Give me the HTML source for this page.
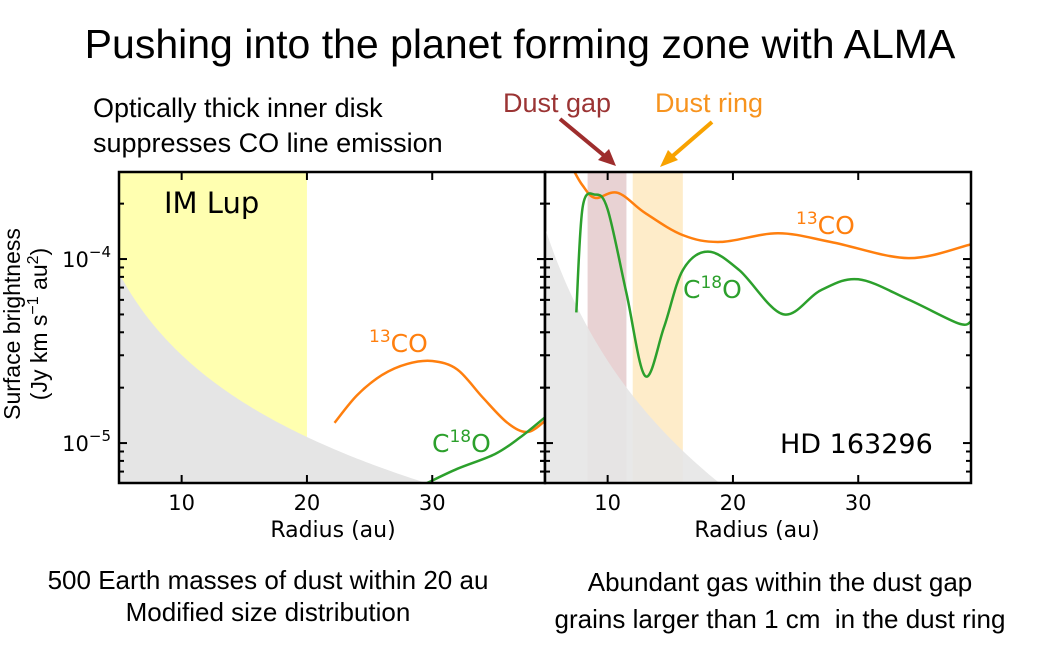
<!DOCTYPE html>
<html><head><meta charset="utf-8"><style>
body{margin:0;background:#fff;}
svg{display:block;font-family:"Liberation Sans","DejaVu Sans",sans-serif;}
.tk{font-family:"DejaVu Sans",sans-serif;font-size:21px;}
</style></head><body>
<svg id="fig" width="1037" height="649" viewBox="0 0 1037 649">
<text x="520" y="58" text-anchor="middle" font-size="41">Pushing into the planet forming zone with ALMA</text>
<text x="93" y="117" font-size="27">Optically thick inner disk</text>
<text x="93" y="152" font-size="27">suppresses CO line emission</text>
<text x="503" y="112" font-size="27" fill="#9b3434">Dust gap</text>
<text x="655" y="112" font-size="27" fill="#f7931e">Dust ring</text>
<g><line x1="560" y1="119" x2="607" y2="158" stroke="#9e2d2d" stroke-width="4"/><polygon points="616,166 598,160 609,149" fill="#9e2d2d"/></g>
<g><line x1="712" y1="122" x2="668" y2="160" stroke="#f8a200" stroke-width="4"/><polygon points="660,167 668,150 678,160" fill="#f8a200"/></g>
<g id="plots"></g>
<text x="24" y="328" font-size="23" text-anchor="middle" transform="rotate(-90 20 328)">Surface brightness</text>
<text x="51" y="328" font-size="23" text-anchor="middle" transform="rotate(-90 47 328)">(Jy km s<tspan dy="-9" font-size="16">−1</tspan><tspan dy="9"> au</tspan><tspan dy="-9" font-size="16">2</tspan><tspan dy="9">)</tspan></text>
<text x="333" y="537" font-size="22" font-family="DejaVu Sans, sans-serif" text-anchor="middle">Radius (au)</text>
<text x="757" y="537" font-size="22" font-family="DejaVu Sans, sans-serif" text-anchor="middle">Radius (au)</text>
<text x="268" y="589" font-size="26" text-anchor="middle">500 Earth masses of dust within 20 au</text>
<text x="268" y="621" font-size="26" text-anchor="middle">Modified size distribution</text>
<text x="780" y="591" font-size="26" text-anchor="middle">Abundant gas within the dust gap</text>
<text x="780" y="628" font-size="26" text-anchor="middle" xml:space="preserve">grains larger than 1 cm  in the dust ring</text>
</svg>
<script>
// data (log10 of surface brightness)
const leftCO13X=[22.2,24,26,28,30,32,34,36,37.6,39];
const leftCO13Y=[-4.89,-4.74,-4.63,-4.57,-4.554,-4.6,-4.75,-4.89,-4.94,-4.88];
const leftC18OX=[29.6,32,35,37,39];
const leftC18OY=[-5.217,-5.14,-5.06,-4.97,-4.86];
const rightCO13X=[7.3,8,9,10.8,13,16,19,23.6,28,34,39];
const rightCO13Y=[-3.52,-3.6,-3.668,-3.64,-3.75,-3.87,-3.907,-3.86,-3.91,-3.995,-3.92];
const rightC18OX=[7.5,8,9,10,11.5,13,14.5,16,18,20.5,24,27,30,34,38,39];
const rightC18OY=[-4.29,-3.72,-3.65,-3.73,-4.185,-4.636,-4.37,-4.06,-3.96,-4.06,-4.3,-4.17,-4.11,-4.22,-4.35,-4.34];
const xTicks=[10,20,30];
const yTicks=[-4,-5];
const leftDust={x0:5,y0:-4.076,slope:-1.48};
const rightDust={x0:5,y0:-3.83,slope:-2.4};
const shadeLeft=[5,20];
const gapBand=[8.4,11.5];
const ringBand=[12,16];

const NS="http://www.w3.org/2000/svg";
const root=document.getElementById('plots');
function mk(tag,attrs,parent){const e=document.createElementNS(NS,tag);for(const k in attrs)e.setAttribute(k,attrs[k]);(parent||root).appendChild(e);return e;}
const Y0=172,Y1=483,LMIN=-5.217,LMAX=-3.527;
function sy(l){return Y1-(l-LMIN)/(LMAX-LMIN)*(Y1-Y0);}
function mkX(px0,px1){return x=>px0+(x-5)/(39-5)*(px1-px0);}
function smooth(xs,ys,sx){
  const p=xs.map((x,i)=>[sx(x),sy(ys[i])]);
  let d=`M${p[0][0]},${p[0][1]}`;
  for(let i=0;i<p.length-1;i++){
    const a=p[i-1]||p[i],b=p[i],c=p[i+1],e=p[i+2]||c;
    d+=` C${b[0]+(c[0]-a[0])/6},${b[1]+(c[1]-a[1])/6} ${c[0]-(e[0]-b[0])/6},${c[1]-(e[1]-b[1])/6} ${c[0]},${c[1]}`;
  }
  return d;
}
function dustPath(sx,dust,px0){
  let d=`M${px0},${Y1}`;
  for(let x=5;x<=39;x+=0.25){let l=dust.y0+dust.slope*Math.log10(x/dust.x0);l=Math.max(l,LMIN-0.01);d+=` L${sx(x)},${sy(l)}`;}
  return d+` L${sx(39)},${Y1} Z`;
}
function panel(px0,px1,name,isLeft){
  const sx=mkX(px0,px1);
  const g=mk('g',{});
  
  
  const cp=mk('clipPath',{id:'c'+name},g);mk('rect',{x:px0,y:Y0,width:px1-px0,height:Y1-Y0},cp);
  const inner=mk('g',{'clip-path':`url(#c${name})`},g);
  if(isLeft){
    const y=mk('rect',{x:sx(shadeLeft[0]),y:Y0,width:sx(shadeLeft[1])-sx(shadeLeft[0]),height:Y1-Y0,fill:'#ffffb0'},inner);
    
    
  }else{
    const a=mk('rect',{x:sx(gapBand[0]),y:Y0,width:sx(gapBand[1])-sx(gapBand[0]),height:Y1-Y0,fill:'#e8d2d3'},inner);
    
    
    const b=mk('rect',{x:sx(ringBand[0]),y:Y0,width:sx(ringBand[1])-sx(ringBand[0]),height:Y1-Y0,fill:'#feecc9'},inner);
    
    
  }
  const dp=mk('path',{d:dustPath(sx,isLeft?leftDust:rightDust,px0),fill:'#e5e5e5','fill-opacity':isLeft?1:0.9},inner);
  
  
  const co=mk('path',{d:smooth(isLeft?leftCO13X:rightCO13X,isLeft?leftCO13Y:rightCO13Y,sx),fill:'none',stroke:'#ff7f0e','stroke-width':2.5},inner);
  
  
  const c18=mk('path',{d:smooth(isLeft?leftC18OX:rightC18OX,isLeft?leftC18OY:rightC18OY,sx),fill:'none',stroke:'#2ca02c','stroke-width':2.5},inner);
  
  
  xTicks.forEach(t=>{const x=sx(t);
    mk('line',{x1:x,y1:Y1,x2:x,y2:Y1-8,stroke:'#000','stroke-width':2},g);
    mk('line',{x1:x,y1:Y0,x2:x,y2:Y0+8,stroke:'#000','stroke-width':2},g);
    const tl=mk('text',{x:x,y:Y1+27,class:'tk','text-anchor':'middle'},g);tl.textContent=t;
    
    
  });
  for(let dec=-6;dec<=-4;dec++){for(let m=1;m<=9;m++){const l=dec+Math.log10(m);if(l<LMIN||l>LMAX)continue;const y=sy(l);const L=m==1?8:5;
    mk('line',{x1:px0,y1:y,x2:px0+L,y2:y,stroke:'#000','stroke-width':2},g);
    mk('line',{x1:px1,y1:y,x2:px1-L,y2:y,stroke:'#000','stroke-width':2},g);
    if(!isLeft)mk('line',{x1:px0,y1:y,x2:px0-L,y2:y,stroke:'#000','stroke-width':2},g);
  }}
  if(isLeft){yTicks.forEach(t=>{const tl=mk('text',{x:px0-8,y:sy(t)+8,class:'tk','text-anchor':'end'},g);
    
    
    tl.innerHTML=`10<tspan dy="-10" font-size="15">−${-t}</tspan>`;});}
  mk('rect',{x:px0,y:Y0,width:px1-px0,height:Y1-Y0,fill:'none',stroke:'#000','stroke-width':2.5},g);
  return g;
}
panel(119,545,'panel-im-lup',true);
panel(545,971,'panel-hd163296',false);
function label(x,y,html,fill,size,name){const t=mk('text',{x:x,y:y,fill:fill,'font-size':size,'font-family':'DejaVu Sans, sans-serif'});t.innerHTML=html;
  
  }
label(164,213,'IM Lup','#000',29,'im-lup-label');
label(369,352,'<tspan dy="-10" font-size="17">13</tspan><tspan dy="10">CO</tspan>','#ff7f0e',25,'13co-label-left');
label(432,452,'C<tspan dy="-10" font-size="17">18</tspan><tspan dy="10">O</tspan>','#2ca02c',25,'c18o-label-left');
label(796,234,'<tspan dy="-10" font-size="17">13</tspan><tspan dy="10">CO</tspan>','#ff7f0e',25,'13co-label-right');
label(683,298,'C<tspan dy="-10" font-size="17">18</tspan><tspan dy="10">O</tspan>','#2ca02c',25,'c18o-label-right');
label(780,453,'HD 163296','#000',27,'hd163296-label');
</script>
</body></html>
